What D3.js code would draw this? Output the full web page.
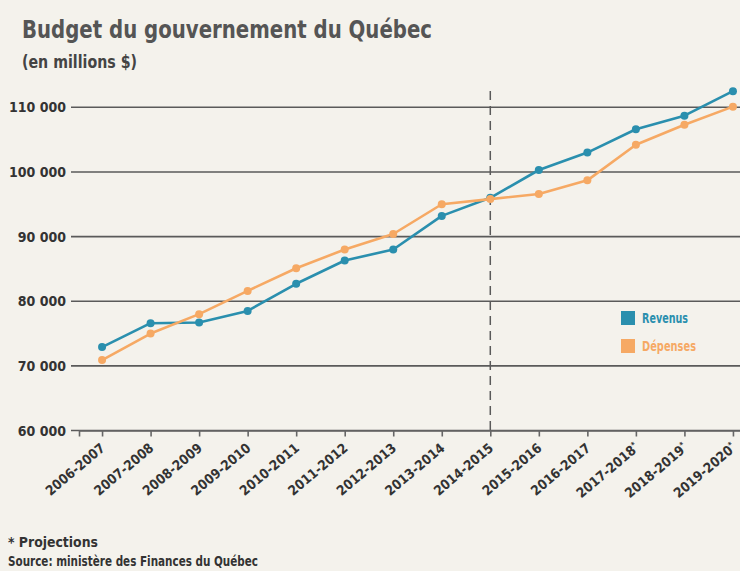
<!DOCTYPE html>
<html>
<head>
<meta charset="utf-8">
<script src="https://cdn.jsdelivr.net/npm/d3@7"></script>
<style>
  body { margin: 0; background: #f4f2ec; }
  svg { display: block; }
  .cond { font-family: "DejaVu Sans Condensed", "Liberation Sans Narrow", sans-serif; font-weight: bold; }
</style>
</head>
<body>
<div id="budgetVis"></div>
<script>
// exercices financiers (* = projections)
const periods = ["2006-2007", "2007-2008", "2008-2009", "2009-2010", "2010-2011", "2011-2012", "2012-2013",
    "2013-2014", "2014-2015", "2015-2016", "2016-2017", "2017-2018*", "2018-2019*", "2019-2020*"];

// millions $
const revenus  = [72900, 76600, 76700, 78500, 82700, 86300, 88000, 93200, 96000, 100300, 103000, 106600, 108700, 112500];
const depenses = [70900, 75000, 78000, 81600, 85100, 88000, 90400, 95000, 95800, 96600, 98700, 104200, 107300, 110100];

const yTicks = [60000, 70000, 80000, 90000, 100000, 110000];
const splitPeriod = "2014-2015";

const seriesNames = ["Revenus", "Dépenses"];
const seriesColors = ["#2a8fae", "#f6a964"];

class BudgetVis {

    constructor(parentElement) {
        this.parentElement = parentElement;
        this.data = [
            {name: seriesNames[0], color: seriesColors[0], values: periods.map((p, i) => ({period: p, value: revenus[i]}))},
            {name: seriesNames[1], color: seriesColors[1], values: periods.map((p, i) => ({period: p, value: depenses[i]}))}
        ];
        this.initVis();
    }

    initVis() {
        let vis = this;
        vis.width = 740;
        vis.height = 571;

        vis.svg = d3.select(vis.parentElement).append("svg")
            .attr("width", vis.width)
            .attr("height", vis.height);

        vis.svg.append("rect")
            .attr("width", vis.width)
            .attr("height", vis.height)
            .attr("fill", "#f4f2ec");

        vis.x = d3.scalePoint(periods, [79, 756]).padding(0.475);
        vis.y = d3.scaleLinear([60000, 110000], [430.5, 107.3]);

        vis.updateVis();
    }

    updateVis() {
        let vis = this;
        const svg = vis.svg;
        const fmt = d => d3.format(",")(d).replace(",", " ");

        // titles (the original face is narrower, so squeeze to its width)
        svg.append("text")
            .attr("class", "cond")
            .attr("x", 22).attr("y", 38)
            .attr("font-size", 24)
            .attr("textLength", 410)
            .attr("lengthAdjust", "spacingAndGlyphs")
            .attr("fill", "#555")
            .text("Budget du gouvernement du Québec");

        svg.append("text")
            .attr("class", "cond")
            .attr("x", 22).attr("y", 68)
            .attr("font-size", 17)
            .attr("textLength", 115)
            .attr("lengthAdjust", "spacingAndGlyphs")
            .attr("fill", "#444")
            .text("(en millions $)");

        // grid + y labels
        const grid = svg.append("g");
        grid.selectAll("line")
            .data(yTicks)
            .join("line")
            .attr("x1", 71).attr("x2", vis.width)
            .attr("y1", d => vis.y(d)).attr("y2", d => vis.y(d))
            .attr("stroke", "#5a5a5a")
            .attr("stroke-width", 1.6);

        grid.selectAll("text")
            .data(yTicks)
            .join("text")
            .attr("class", "cond")
            .attr("x", 66)
            .attr("y", d => vis.y(d))
            .attr("dy", "0.36em")
            .attr("text-anchor", "end")
            .attr("font-size", 14)
            .attr("fill", "#333")
            .text(fmt);

        // x axis
        const xAxis = svg.append("g")
            .attr("transform", `translate(0,${vis.y(60000)})`)
            .call(d3.axisBottom(vis.x).tickSize(6).tickSizeOuter(6).tickFormat(""));
        xAxis.select(".domain").attr("stroke", "#666").attr("stroke-width", 1.6);
        xAxis.selectAll(".tick line").attr("stroke", "#666").attr("stroke-width", 1.6);

        const labels = svg.append("g")
            .selectAll("text")
            .data(periods)
            .join("text")
            .attr("class", "cond")
            .attr("font-size", 13.5)
            .attr("fill", "#333")
            .attr("text-anchor", "end")
            .attr("transform", d => `translate(${vis.x(d) + 4},${vis.y(60000) + 19}) rotate(-40)`);
        labels.append("tspan").text(d => d.replace("*", ""));
        labels.filter(d => d.endsWith("*"))
            .append("tspan")
            .attr("font-size", 8)
            .attr("dy", -5)
            .text("*");

        // separator between actuals and projections
        svg.append("line")
            .attr("x1", vis.x(splitPeriod)).attr("x2", vis.x(splitPeriod))
            .attr("y1", 91).attr("y2", vis.y(60000))
            .attr("stroke", "#5a5a5a")
            .attr("stroke-width", 1.5)
            .attr("stroke-dasharray", "9,6");

        // lines
        const line = d3.line()
            .x(d => vis.x(d.period))
            .y(d => vis.y(d.value));

        const series = svg.append("g")
            .selectAll("g")
            .data(vis.data)
            .join("g");

        series.append("path")
            .attr("d", d => line(d.values))
            .attr("fill", "none")
            .attr("stroke", d => d.color)
            .attr("stroke-width", 2.6)
            .attr("stroke-linejoin", "round");

        series.selectAll("circle")
            .data(d => d.values.map(v => ({...v, color: d.color})))
            .join("circle")
            .attr("cx", d => vis.x(d.period))
            .attr("cy", d => vis.y(d.value))
            .attr("r", 4)
            .attr("fill", d => d.color);

        // legend
        const legendWidths = [46, 54];
        const legend = svg.append("g")
            .selectAll("g")
            .data(vis.data)
            .join("g")
            .attr("transform", (d, i) => `translate(621,${311 + i * 28})`);
        legend.append("rect")
            .attr("width", 14).attr("height", 14)
            .attr("fill", d => d.color);
        legend.append("text")
            .attr("class", "cond")
            .attr("x", 21).attr("y", 7)
            .attr("dy", "0.36em")
            .attr("font-size", 14)
            .attr("textLength", (d, i) => legendWidths[i])
            .attr("lengthAdjust", "spacingAndGlyphs")
            .attr("fill", d => d.color)
            .text(d => d.name);

        // notes
        svg.append("text")
            .attr("class", "cond")
            .attr("x", 8).attr("y", 547)
            .attr("font-size", 14)
            .attr("textLength", 90)
            .attr("lengthAdjust", "spacingAndGlyphs")
            .attr("fill", "#333")
            .text("* Projections");
        svg.append("text")
            .attr("class", "cond")
            .attr("x", 8).attr("y", 566)
            .attr("font-size", 14)
            .attr("textLength", 250)
            .attr("lengthAdjust", "spacingAndGlyphs")
            .attr("fill", "#333")
            .text("Source: ministère des Finances du Québec");
    }
}

new BudgetVis("#budgetVis");
</script>
</body>
</html>
